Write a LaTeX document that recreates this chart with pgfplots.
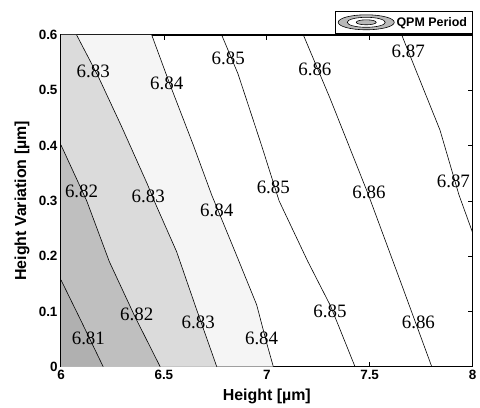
\documentclass[border=0pt]{standalone}
\usepackage{fontspec}
\setmainfont{Liberation Sans}
\newfontfamily\clabfont{Liberation Serif}
\usepackage{pgfplots}
\pgfplotsset{compat=1.18}

\definecolor{shA}{gray}{0.69}
\definecolor{shB}{gray}{0.75}
\definecolor{shC}{gray}{0.86}
\definecolor{shD}{gray}{0.96}

\begin{document}
\begin{tikzpicture}
\begin{axis}[
  scale only axis, width=411.5bp, height=331.7bp,
  xmin=6, xmax=8, ymin=0, ymax=0.6,
  xtick={6,6.5,7,7.5,8},
  ytick={0,0.1,0.2,0.3,0.4,0.5,0.6},
  tick align=inside, major tick length=5bp,
  tick style={black, line width=0.6pt},
  axis line style={line width=1.1pt},
  /pgf/number format/assume math mode=true,
  ticklabel style={font=\bfseries\fontsize{13.5}{16}\selectfont},
  xlabel={Height [µm]}, ylabel={Height Variation [µm]},
  label style={font=\bfseries\fontsize{16}{19}\selectfont},
  xlabel style={at={(axis description cs:0.5,-0.0904)}, anchor=center},
  ylabel style={at={(axis description cs:-0.0948,0.5)}, anchor=center},
  legend style={at={(1,1)}, anchor=south east, yshift=1bp, draw=black,
    line width=0.8pt, font=\bfseries\fontsize{12.5}{15}\selectfont,
    inner xsep=3bp, inner ysep=3.5bp, legend cell align=left},
  every axis plot/.append style={line width=0.6pt},
]

% shaded bands, lightest first
\addplot[fill=shD, draw=none, forget plot] coordinates {
  (6,0) (6,0.6) (6.441,0.600) (6.530,0.510) (6.643,0.401) (6.732,0.311)
  (6.846,0.208) (6.951,0.112) (7.001,0.041) (7.032,0)} -- cycle;
\addplot[fill=shC, draw=none, forget plot] coordinates {
  (6,0) (6,0.6) (6.076,0.600) (6.181,0.525) (6.295,0.434) (6.420,0.330)
  (6.460,0.294) (6.562,0.208) (6.651,0.112) (6.757,0)} -- cycle;
\addplot[fill=shB, draw=none, forget plot] coordinates {
  (6,0) (6.000,0.401) (6.125,0.300) (6.235,0.190) (6.360,0.090) (6.482,0)} -- cycle;
\addplot[fill=shA, draw=none, forget plot] coordinates {
  (6,0) (6.000,0.157) (6.100,0.081) (6.205,0)} -- cycle;

% contour lines
\addplot[black, forget plot] coordinates {(6.000,0.157) (6.100,0.081) (6.205,0)};
\addplot[black, forget plot] coordinates {(6.000,0.401) (6.125,0.300) (6.235,0.190) (6.360,0.090) (6.482,0)};
\addplot[black, forget plot] coordinates {(6.076,0.600) (6.181,0.525) (6.295,0.434) (6.420,0.330)
  (6.460,0.294) (6.562,0.208) (6.651,0.112) (6.757,0)};
\addplot[black, forget plot] coordinates {(6.441,0.600) (6.530,0.510) (6.643,0.401) (6.732,0.311)
  (6.846,0.208) (6.951,0.112) (7.001,0.041) (7.032,0)};
\addplot[black, forget plot] coordinates {(6.781,0.600) (6.860,0.530) (6.975,0.400) (7.060,0.300)
  (7.200,0.190) (7.310,0.110) (7.429,0)};
\addplot[black, forget plot] coordinates {(7.178,0.600) (7.307,0.486) (7.490,0.315) (7.656,0.148) (7.802,0)};
\addplot[black, legend image code/.code={
    \draw[black, line width=0.6pt, fill=gray!55] (28bp,0bp) ellipse (28bp and 7.5bp);
    \draw[black, line width=0.6pt, fill=white] (28bp,0bp) ellipse (19bp and 5bp);
    \draw[black, line width=0.6pt, fill=gray!55] (28bp,0bp) ellipse (10bp and 2.5bp);
  }] coordinates {(7.656,0.600) (7.842,0.428) (7.934,0.311) (8.000,0.243)};
\addlegendentry{QPM Period}

% contour labels
\begin{scope}[every node/.style={font=\clabfont\fontsize{19}{22}\selectfont, inner sep=0pt}]
\node at (axis cs:6.157,0.534) {6.83};
\node at (axis cs:6.514,0.513) {6.84};
\node at (axis cs:6.813,0.558) {6.85};
\node at (axis cs:7.234,0.538) {6.86};
\node at (axis cs:7.688,0.570) {6.87};
\node at (axis cs:6.100,0.318) {6.82};
\node at (axis cs:6.424,0.308) {6.83};
\node at (axis cs:6.757,0.283) {6.84};
\node at (axis cs:7.032,0.325) {6.85};
\node at (axis cs:7.497,0.316) {6.86};
\node at (axis cs:7.907,0.335) {6.87};
\node at (axis cs:6.133,0.051) {6.81};
\node at (axis cs:6.368,0.094) {6.82};
\node at (axis cs:6.667,0.080) {6.83};
\node at (axis cs:6.975,0.051) {6.84};
\node at (axis cs:7.307,0.101) {6.85};
\node at (axis cs:7.737,0.080) {6.86};
\end{scope}
\end{axis}
\pgfresetboundingbox
\path (-61bp,-41.3bp) rectangle (419bp,366.7bp);
\end{tikzpicture}
\end{document}
